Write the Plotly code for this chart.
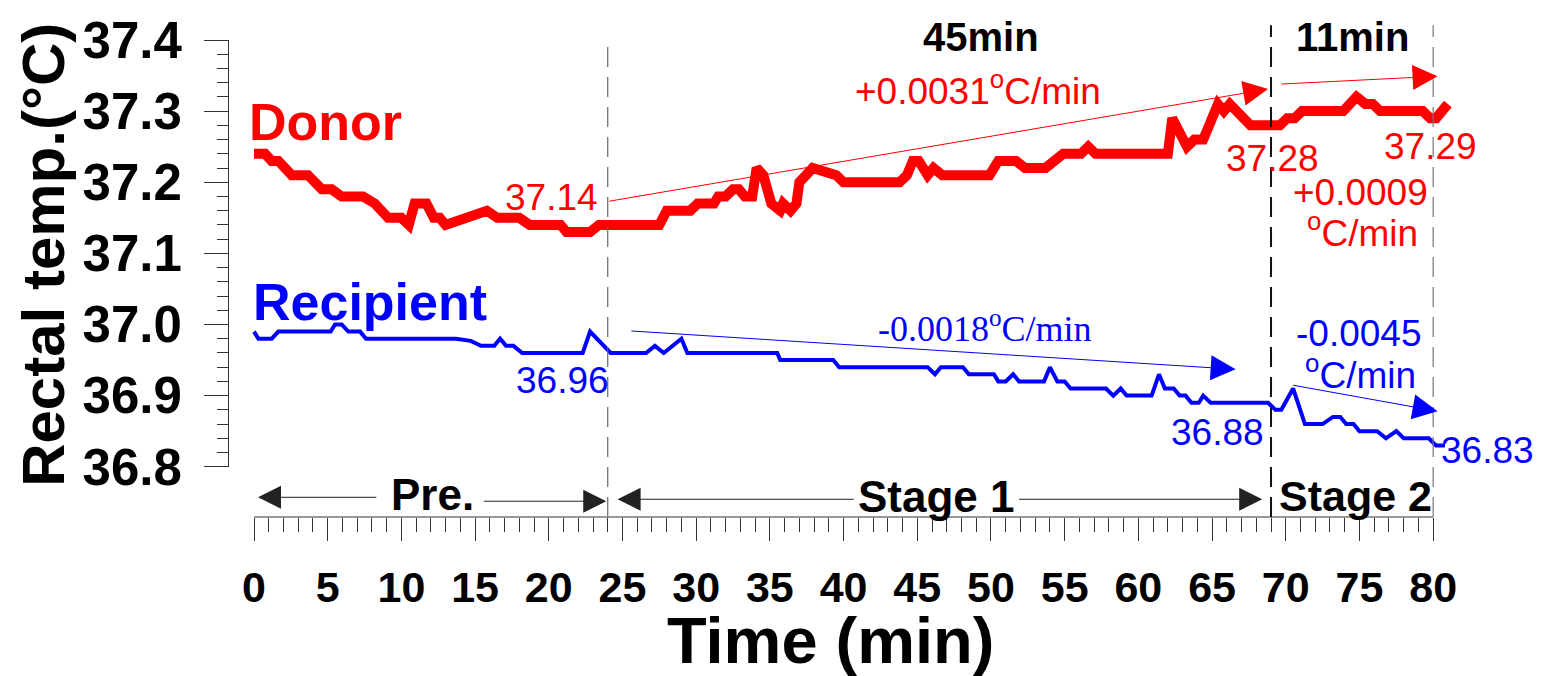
import plotly.graph_objects as go

# ---------------- data ----------------
donor_t = [0, 0.75, 1.2, 1.65, 2.56, 3.66, 4.6, 5.27, 5.95, 7.4,
           8.2, 8.66, 9.1, 10.0, 10.5, 10.9, 11.7, 12.2, 12.6, 13.0,
           15.8, 16.5, 18.0, 18.7, 20.8, 21.2, 22.8, 23.4, 27.5, 28.0,
           29.6, 30.1, 31.2, 31.5, 32.0, 32.5, 32.9, 33.3, 33.8, 34.1,
           34.55, 35.1, 35.7, 35.9, 36.4, 36.8, 37.0, 37.9, 39.1, 39.5,
           40.0, 43.8, 44.3, 44.7, 45.1, 45.7, 46.1, 46.7, 49.9, 50.5,
           51.7, 52.3, 53.7, 54.3, 54.9, 56.1, 56.6, 57.1, 62.0, 62.3,
           63.3, 63.8, 64.4, 65.4, 65.8, 66.2, 67.6, 69.6, 70.1, 70.6,
           71.1, 73.9, 74.8, 75.4, 75.9, 76.4, 79.3, 79.8, 80.2, 81.0]
donor_v = [37.24, 37.24, 37.23, 37.23, 37.21, 37.21, 37.19, 37.19, 37.18, 37.18,
           37.17, 37.16, 37.15, 37.15, 37.14, 37.17, 37.17, 37.15, 37.15, 37.14,
           37.16, 37.15, 37.15, 37.14, 37.14, 37.13, 37.13, 37.14, 37.14, 37.16,
           37.16, 37.17, 37.17, 37.18, 37.18, 37.19, 37.19, 37.18, 37.18, 37.22,
           37.21, 37.17, 37.16, 37.17, 37.16, 37.17, 37.20, 37.22, 37.21, 37.21,
           37.20, 37.20, 37.21, 37.23, 37.23, 37.21, 37.22, 37.21, 37.21, 37.23,
           37.23, 37.22, 37.22, 37.23, 37.24, 37.24, 37.25, 37.24, 37.24, 37.29,
           37.25, 37.26, 37.26, 37.31, 37.30, 37.31, 37.28, 37.28, 37.29, 37.29,
           37.30, 37.30, 37.32, 37.31, 37.31, 37.30, 37.30, 37.29, 37.29, 37.31]

recip_t = [0, 0.3, 1.2, 1.65, 5.2, 5.5, 5.95, 6.4, 7.2, 7.6,
           13.7, 14.7, 15.4, 16.3, 16.7, 17.1, 17.6, 18.2, 22.3, 22.8,
           24.2, 26.6, 27.2, 27.8, 29.0, 29.4, 35.5, 35.7, 39.3, 39.7,
           45.7, 46.2, 46.6, 48.1, 48.5, 50.2, 50.5, 51.0, 51.5, 51.9,
           53.6, 54.0, 54.5, 55.0, 55.4, 57.8, 58.3, 58.8, 59.2, 60.9,
           61.4, 61.8, 62.4, 62.8, 63.2, 63.6, 64.1, 64.4, 64.9, 68.8,
           69.3, 69.7, 70.5, 71.1, 71.3, 72.5, 73.2, 73.7, 74.1, 74.6,
           75.0, 76.2, 76.8, 77.5, 78.0, 79.7, 80.2, 80.8]
recip_v = [36.99, 36.98, 36.98, 36.99, 36.99, 37.00, 37.00, 36.99, 36.99, 36.98,
           36.98, 36.977, 36.97, 36.97, 36.98, 36.97, 36.97, 36.96, 36.96, 36.99,
           36.96, 36.96, 36.97, 36.96, 36.98, 36.96, 36.96, 36.95, 36.95, 36.94,
           36.94, 36.93, 36.94, 36.94, 36.93, 36.93, 36.92, 36.92, 36.93, 36.92,
           36.92, 36.94, 36.92, 36.92, 36.91, 36.91, 36.90, 36.91, 36.90, 36.90,
           36.93, 36.91, 36.91, 36.90, 36.90, 36.89, 36.89, 36.90, 36.89, 36.89,
           36.88, 36.88, 36.91, 36.87, 36.86, 36.86, 36.87, 36.87, 36.86, 36.86,
           36.85, 36.85, 36.84, 36.85, 36.84, 36.84, 36.83, 36.83]

x_ticks = list(range(0, 81, 5))
y_ticks = [36.8, 36.9, 37.0, 37.1, 37.2, 37.3, 37.4]
stage_bounds = [24, 69, 80]

# trend arrows: (t_start, v_start, t_end, v_end)
donor_trend_1 = (24.0, 37.173, 68.8, 37.331)
donor_trend_2 = (69.6, 37.338, 80.3, 37.349)
recip_trend_1 = (25.5, 36.991, 66.6, 36.937)
recip_trend_2 = (70.4, 36.915, 80.3, 36.878)

RED = "#ff0000"
BLUE = "#0000ff"
SANS = "Liberation Sans, Arial, sans-serif"
SERIF = "Liberation Serif, Times New Roman, serif"

# pixel helpers for layout of decorations
PLOT_L, PLOT_R, PLOT_T, PLOT_B = 229, 1470, 33, 517
W, H = 1553, 676


def px_x(p):
    return (p - PLOT_L) / (PLOT_R - PLOT_L)


def px_y(p):
    return (PLOT_B - p) / (PLOT_B - PLOT_T)


fig = go.Figure()
fig.add_trace(go.Scatter(x=donor_t, y=donor_v, mode="lines",
                         line=dict(color=RED, width=10), name="Donor"))
fig.add_trace(go.Scatter(x=recip_t, y=recip_v, mode="lines",
                         line=dict(color=BLUE, width=4), name="Recipient"))

ydom0 = px_y(466)
fig.update_layout(
    width=W, height=H,
    margin=dict(l=PLOT_L, r=W - PLOT_R, t=PLOT_T, b=H - PLOT_B),
    paper_bgcolor="white", plot_bgcolor="white",
    showlegend=False,
    xaxis=dict(range=[-1.696, 82.5], showgrid=False, zeroline=False, showline=False,
               anchor="free", position=0,
               tickmode="array", tickvals=x_ticks, ticktext=[str(v) for v in x_ticks],
               ticks="outside", ticklen=23, tickwidth=1, tickcolor="#333",
               tickfont=dict(family=SANS, size=43, color="black", weight="bold"),
               ticklabelstandoff=9,
               minor=dict(tickvals=[v for v in range(0, 81) if v % 5], ticks="outside",
                          ticklen=14, tickwidth=1, tickcolor="#333")),
    yaxis=dict(range=[36.8, 37.4], domain=[ydom0, 1], showgrid=False, zeroline=False,
               showline=True, linecolor="#333", linewidth=1,
               tickmode="array", tickvals=y_ticks, ticktext=["%.1f" % v for v in y_ticks],
               ticks="outside", ticklen=24, tickwidth=1, tickcolor="#333",
               tickfont=dict(family=SANS, size=51, color="black", weight="bold"),
               ticklabelstandoff=12,
               minor=dict(tickvals=[round(36.8 + 0.02 * i, 2) for i in range(31) if i % 5],
                          ticks="outside", ticklen=11, tickwidth=1, tickcolor="#333")),
)

# x-axis baseline from first to last tick
fig.add_shape(type="line", xref="x", yref="paper", x0=x_ticks[0], x1=x_ticks[-1],
              y0=0, y1=0, line=dict(color="#333", width=1))

# dashed stage boundaries
bound_style = [("#666", 1.2, px_y(35)), ("#111", 2, px_y(18)), ("#777", 1.2, px_y(18))]
for xb, (col, wd, top) in zip(stage_bounds, bound_style):
    fig.add_shape(type="line", xref="x", yref="paper", x0=xb, x1=xb, y0=0, y1=top,
                  line=dict(color=col, width=wd, dash="20px,10px"))

# trend arrows
for (t0, v0, t1, v1), col in [(donor_trend_1, RED), (donor_trend_2, RED),
                              (recip_trend_1, BLUE), (recip_trend_2, BLUE)]:
    fig.add_annotation(x=t1, y=v1, ax=t0, ay=v0, xref="x", yref="y", axref="x", ayref="y",
                       text="", showarrow=True, arrowhead=2, arrowsize=5, arrowwidth=1,
                       arrowcolor=col)

# stage span arrows below the plot
span_arrows = [(8.4, 0.27, 497), (15.5, 23.9, 501), (40.8, 24.67, 499), (51.8, 68.4, 499)]
for tail, head, ypx in span_arrows:
    fig.add_annotation(x=head, y=px_y(ypx), xref="x", yref="paper", ax=tail, axref="x",
                       ay=0, ayref="pixel", text="", showarrow=True, arrowhead=2,
                       arrowsize=4.6, arrowwidth=1, arrowcolor="#222")


def label(text, x, y, color="black", size=37, bold=False, family=SANS, xanchor="center",
          xref="x", yref="y", angle=0):
    fig.add_annotation(x=x, y=y, xref=xref, yref=yref, text=text, showarrow=False,
                       xanchor=xanchor, yanchor="middle", textangle=angle,
                       font=dict(family=family, size=size, color=color,
                                 weight="bold" if bold else "normal"))


# stage labels
label("Pre.", 12.1, px_y(494), size=44, bold=True, yref="paper")
label("Stage 1", 46.3, px_y(496), size=44, bold=True, yref="paper")
label("Stage 2", 74.7, px_y(496), size=43, bold=True, yref="paper")
label("45min", 49.3, px_y(30), size=40, bold=True, yref="paper")
label("11min", 74.5, px_y(30), size=40, bold=True, yref="paper")

# series names
label("Donor", -0.5, px_y(116), color=RED, size=52, bold=True, xanchor="left", yref="paper")
label("Recipient", -0.2, px_y(299), color=BLUE, size=52, bold=True, xanchor="left",
      yref="paper")

# value labels
label("37.14", 23.5, px_y(193), color=RED, xanchor="right", yref="paper")
label("37.28", 69.1, px_y(153), color=RED, yref="paper")
label("37.29", 79.85, px_y(141), color=RED, yref="paper")
label("+0.0031<sup>o</sup>C/min", 49.1, px_y(82), color=RED, yref="paper")
label("+0.0009", 75.1, px_y(188), color=RED, yref="paper")
label("<sup>o</sup>C/min", 75.2, px_y(226), color=RED, yref="paper")
label("36.96", 20.9, px_y(378), color=BLUE, yref="paper")
label("36.88", 65.4, px_y(431), color=BLUE, yref="paper")
label("36.83", 80.4, px_y(450), color=BLUE, xanchor="left", yref="paper")
label("-0.0018<sup>o</sup>C/min", 49.6, px_y(324), color=BLUE, family=SERIF, size=36,
      yref="paper")
label("-0.0045", 75.0, px_y(331), color=BLUE, yref="paper")
label("<sup>o</sup>C/min", 75.1, px_y(370), color=BLUE, yref="paper")

# axis titles
label("Time (min)", (831 - 254) / 14.74, px_y(642), size=65, bold=True, yref="paper")
label("Rectal temp.(°C)", px_x(44), px_y(251), size=60, bold=True, xref="paper",
      yref="paper", angle=-90)

fig.write_html("out.html")
